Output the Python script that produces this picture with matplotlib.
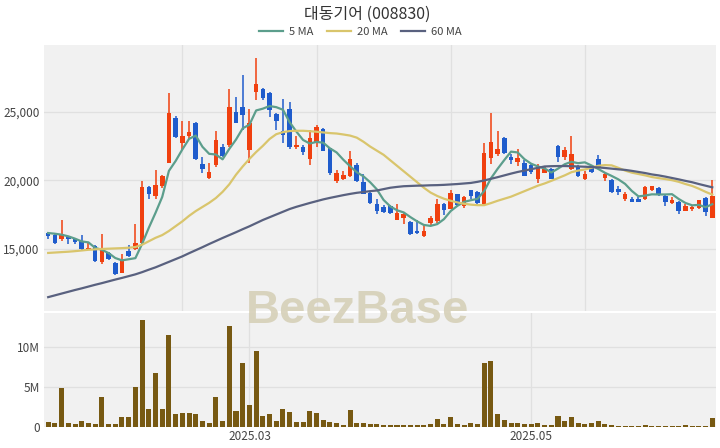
import matplotlib
matplotlib.use("Agg")
import matplotlib.pyplot as plt
from matplotlib.lines import Line2D
import numpy as np

plt.rcParams['font.family'] = ['Noto Sans CJK KR', 'DejaVu Sans']

# 일봉 데이터
opens = [16180, 16040, 15700, 15870, 15740, 15570, 14970, 15210, 14040, 14720,
         13990, 13260, 14840, 14970, 15430, 19510, 18860, 19560, 21270, 24550,
         22730, 23210, 24190, 21150, 20170, 21100, 22430, 22560, 24990, 25310,
         22190, 26450, 26620, 26380, 24790, 23580, 25160, 22390, 22430, 21510,
         22800, 23720, 22310, 19930, 20070, 20290, 21100, 19880, 19100, 18250,
         18060, 18130, 17130, 17280, 16960, 16280, 15940, 16910, 17030, 18300,
         17930, 18980, 18100, 19270, 19150, 18250, 21580, 21900, 23040, 21700,
         21340, 21270, 21100, 20120, 20540, 20850, 22480, 21660, 20850, 21050,
         20120, 20930, 21530, 20170, 20050, 19390, 18660, 18660, 18660, 18660,
         19270, 19440, 18860, 18350, 18420, 17760, 17930, 18010, 18710, 17280]
highs = [16200, 16110, 17080, 15870, 15820, 15990, 15430, 15260, 16060, 14770,
         14040, 14650, 15310, 16790, 19930, 19590, 20730, 20400, 26330, 24670,
         24310, 24310, 24240, 21700, 21220, 23600, 22630, 26620, 26080, 27670,
         25160, 28880, 26690, 26450, 24870, 25890, 25670, 23210, 22560, 23650,
         24020, 23820, 22360, 20730, 20680, 22140, 21220, 20440, 19200, 18660,
         18180, 18180, 18300, 17690, 17030, 17080, 16720, 17370, 18660, 18350,
         19270, 19030, 18830, 19320, 19220, 22680, 24870, 23580, 23120, 21900,
         22260, 21460, 21220, 21170, 21020, 20900, 22560, 22390, 23210, 21100,
         20680, 21020, 21830, 20610, 20120, 19560, 19150, 18790, 18790, 19560,
         19560, 19470, 18910, 18790, 18470, 18300, 18180, 18540, 18790, 20050]
lows = [15750, 15380, 15570, 15380, 15380, 14890, 14890, 14040, 13920, 14210,
        13120, 13240, 14410, 14890, 15380, 18610, 18610, 19400, 21220, 23040,
        22190, 22970, 21460, 20490, 20120, 20930, 21660, 22430, 24140, 23650,
        21220, 25840, 25840, 24620, 23650, 22730, 22240, 22260, 21830, 21100,
        22430, 22120, 20370, 19810, 20000, 20240, 19880, 18960, 18300, 17570,
        17620, 17570, 17080, 16840, 15990, 16110, 15870, 16720, 16890, 17450,
        17890, 18060, 18010, 18660, 18300, 18180, 21170, 21750, 21900, 21170,
        21020, 20290, 20440, 19760, 20490, 20070, 21290, 21460, 20730, 20240,
        20000, 20490, 20930, 19950, 19100, 18910, 18490, 18420, 18420, 18590,
        19220, 18860, 18100, 18300, 17570, 17740, 17760, 17930, 17400, 17250]
closes = [15940, 15450, 16110, 15700, 15500, 14970, 15090, 14090, 15010, 14280,
          13190, 14210, 14480, 15430, 19510, 19030, 19640, 20320, 24920, 23120,
          23210, 23480, 21510, 20800, 20610, 22920, 21750, 25310, 24190, 24750,
          24190, 26980, 25960, 25110, 24330, 23260, 22430, 22560, 22050, 23040,
          23850, 22140, 20540, 20540, 20370, 21510, 19950, 19030, 18370, 17760,
          17690, 17620, 17620, 17570, 16060, 16160, 16280, 17280, 18250, 17860,
          19080, 18180, 18740, 18830, 18370, 21950, 22750, 22260, 22000, 21460,
          21630, 20320, 20610, 20970, 20780, 20120, 21710, 22190, 21880, 20290,
          20420, 20560, 20970, 20440, 19150, 19150, 18960, 18420, 18420, 19470,
          19560, 18910, 18420, 18540, 17740, 18100, 18060, 18540, 17690, 18860]

ma5 = [16150, 16100, 16030, 15910, 15740, 15540, 15470, 15070, 14930, 14690,
       14330, 14160, 14240, 14320, 15360, 16530, 17620, 18780, 20680, 21400,
       22240, 23010, 23250, 22430, 21920, 21870, 21520, 22280, 22960, 23780,
       24040, 25080, 25210, 25400, 25320, 25130, 24220, 23540, 22930, 22670,
       22790, 22730, 22320, 22020, 21490, 21020, 20580, 20280, 19850, 19330,
       18560, 18090, 17810, 17650, 17310, 17000, 16740, 16670, 16800, 17160,
       17750, 18130, 18420, 18540, 18640, 19210, 20130, 20830, 21470, 22080,
       22020, 21530, 21200, 21000, 20860, 20560, 20840, 21160, 21340, 21240,
       21300, 21070, 20820, 20540, 20310, 20060, 19730, 19220, 18820, 18880,
       18970, 18960, 18960, 18980, 18630, 18340, 18170, 18200, 18030, 18250]
ma20 = [14700, 14730, 14760, 14790, 14830, 14880, 14930, 14960, 14990, 15010,
        15030, 15050, 15080, 15130, 15300, 15550, 15800, 16000, 16300, 16650,
        17000, 17400, 17750, 18050, 18350, 18700, 19150, 19700, 20400, 21000,
        21550, 22050, 22500, 23000, 23350, 23500, 23580, 23600, 23600, 23570,
        23530, 23480, 23430, 23400, 23330, 23250, 23100, 22800, 22450, 22150,
        21850, 21450, 21050, 20650, 20250, 19850, 19450, 19100, 18850, 18650,
        18500, 18380, 18280, 18220, 18180, 18180, 18330, 18500, 18650, 18800,
        19000, 19200, 19400, 19600, 19760, 19950, 20150, 20350, 20580, 20700,
        20780, 20900, 21050, 21100, 21080, 20900, 20700, 20550, 20450, 20350,
        20230, 20150, 20080, 20000, 19880, 19720, 19580, 19380, 19150, 18950]
ma60 = [11480, 11610, 11740, 11870, 12000, 12120, 12250, 12380, 12500, 12630,
        12760, 12880, 13010, 13140, 13300, 13480, 13650, 13850, 14050, 14250,
        14450, 14680, 14900, 15120, 15350, 15570, 15790, 16000, 16210, 16430,
        16640, 16870, 17100, 17300, 17500, 17700, 17900, 18060, 18200, 18340,
        18470, 18600, 18710, 18810, 18910, 19000, 19080, 19140, 19200, 19250,
        19350, 19450, 19510, 19560, 19580, 19600, 19610, 19630, 19640, 19660,
        19690, 19720, 19760, 19800, 19880, 19980, 20100, 20220, 20350, 20480,
        20600, 20700, 20800, 20900, 21000, 21020, 21030, 21030, 21020, 21000,
        20980, 20960, 20930, 20890, 20840, 20790, 20750, 20680, 20600, 20520,
        20420, 20350, 20260, 20160, 20060, 19950, 19850, 19720, 19600, 19480]

# 거래량 (백만주)
volume_m = [0.6, 0.5, 4.9, 0.55, 0.4, 0.8, 0.5, 0.4, 3.7, 0.35,
            0.35, 1.2, 1.2, 5.0, 13.4, 2.2, 6.7, 2.3, 11.5, 1.6,
            1.75, 1.8, 1.6, 0.8, 0.5, 3.8, 0.75, 12.6, 2.0, 8.0,
            2.7, 9.5, 1.4, 1.6, 0.75, 2.25, 1.9, 0.65, 0.6, 2.05,
            1.7, 0.9, 0.6, 0.45, 0.2, 2.1, 0.55, 0.5, 0.4, 0.4,
            0.3, 0.3, 0.3, 0.3, 0.3, 0.3, 0.3, 0.4, 1.0, 0.35,
            1.2, 0.35, 0.3, 0.55, 0.35, 8.0, 8.2, 1.6, 0.9, 0.55,
            0.55, 0.4, 0.4, 0.5, 0.2, 0.2, 1.4, 0.75, 1.2, 0.5,
            0.35, 0.45, 0.8, 0.35, 0.2, 0.15, 0.15, 0.1, 0.1, 0.2,
            0.15, 0.1, 0.1, 0.15, 0.1, 0.2, 0.15, 0.1, 0.15, 1.1]

month_ticks = [30, 72]
month_labels = ['2025.03', '2025.05']
price_ticks = [15000, 20000, 25000]
volume_ticks = [0, 5e6, 10e6]
volume_tick_labels = ['0', '5M', '10M']

UP = '#f0400f'
DOWN = '#1f5ccc'
BG = '#f1f1f1'
GRID = '#e0e0e0'
TXT = '#444444'

x = np.arange(len(closes))
o = np.array(opens)
h = np.array(highs)
l = np.array(lows)
c = np.array(closes)
up = c >= o
colors = np.where(up, UP, DOWN)

fig = plt.figure(figsize=(7.2, 4.48), dpi=100)
ax = fig.add_axes([0.0618, 0.3058, 0.9326, 0.5938])
axv = fig.add_axes([0.0618, 0.0469, 0.9326, 0.2545])

for a in (ax, axv):
    a.set_facecolor(BG)
    for s in a.spines.values():
        s.set_visible(False)
    a.tick_params(length=0, colors=TXT, labelsize=8.5)
    a.set_xlim(-0.55, 99.55)

# 캔들
ax.vlines(x, l, h, colors=colors, linewidth=1.1, zorder=3)
body_bottom = np.minimum(o, c)
body_height = np.maximum(np.abs(c - o), 60)
ax.bar(x, body_height, bottom=body_bottom, width=0.68, color=colors, zorder=4)

# 이동평균선
ax.plot(x, ma5, color='#5c9e8c', linewidth=1.6, zorder=5)
ax.plot(x, ma20, color='#d9c56c', linewidth=1.6, zorder=5)
ax.plot(x, ma60, color='#59617f', linewidth=1.6, zorder=5)

ax.set_ylim(10470, 29850)
ax.set_yticks(price_ticks)
ax.set_yticklabels([f'{v:,}' for v in price_ticks])
ax.set_xticks([20, 40, 60, 80])
ax.tick_params(axis='x', labelbottom=False)
ax.grid(True, color=GRID, linewidth=0.9, zorder=0)
ax.set_axisbelow(True)

# 거래량
axv.bar(x, np.array(volume_m) * 1e6, width=0.75, color='#775912', zorder=3)
axv.set_ylim(0, 14.25e6)
axv.set_yticks(volume_ticks)
axv.set_yticklabels(volume_tick_labels)
axv.set_xticks(month_ticks)
axv.set_xticklabels(month_labels)
axv.tick_params(axis='x', pad=2)
axv.grid(True, color=GRID, linewidth=0.9, zorder=0)
axv.set_axisbelow(True)

fig.text(0.51, 0.968, '대동기어 (008830)', ha='center', va='center',
         fontsize=11.5, color='#333333')

handles = [Line2D([], [], color='#5c9e8c', linewidth=1.6),
           Line2D([], [], color='#d9c56c', linewidth=1.6),
           Line2D([], [], color='#59617f', linewidth=1.6)]
fig.legend(handles, ['5 MA', '20 MA', '60 MA'], loc='center',
           bbox_to_anchor=(0.5, 0.928), ncol=3, frameon=False,
           fontsize=8, handlelength=2.2, handletextpad=0.5,
           columnspacing=1.2, labelcolor=TXT)

# 워터마크
fig.text(0.497, 0.305, 'BeezBase', ha='center', va='center',
         fontsize=34, fontweight='bold', family='Liberation Sans',
         color='#d6d0b8', alpha=0.9, zorder=10)

fig.savefig('out.png', dpi=100)
